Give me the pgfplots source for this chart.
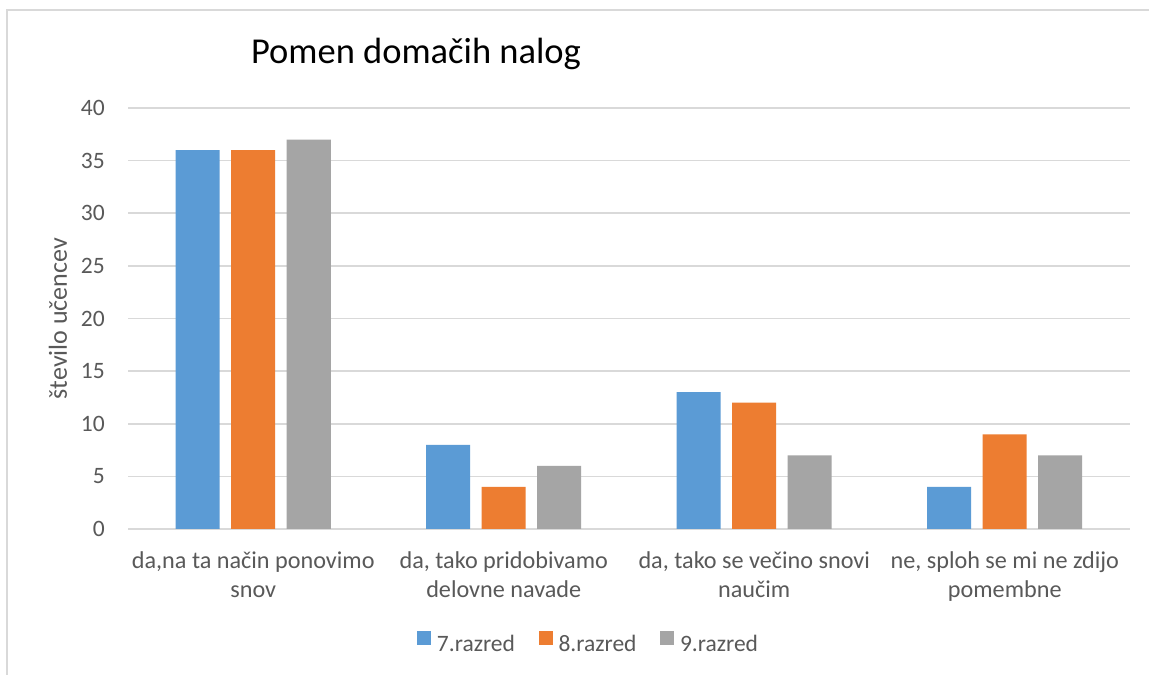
\documentclass[border=0pt]{standalone}
\usepackage{fontspec}
\setmainfont{Carlito}
\usepackage{pgfplots}
\pgfplotsset{compat=1.18}
\definecolor{cblue}{HTML}{5B9BD5}
\definecolor{corange}{HTML}{ED7D31}
\definecolor{cgray}{HTML}{A5A5A5}
\definecolor{ctext}{HTML}{595959}
\definecolor{cgrid}{HTML}{D9D9D9}
\begin{document}
\begin{tikzpicture}
\path[use as bounding box] (0,0) rectangle (1149bp,675bp);
\fill[white] (0,0) rectangle (1149bp,675bp);
\draw[cgrid, line width=1.5bp] (7bp,-20bp) rectangle (1170bp,665bp);
\node[font=\fontsize{36.5bp}{43bp}\selectfont, anchor=base, text=black, inner sep=0pt] at (416bp,611bp) {Pomen domačih nalog};
\begin{axis}[
  at={(128bp,146bp)}, anchor=south west,
  scale only axis, width=1002bp, height=421bp,
  ybar=11.5bp, bar width=44bp,
  xmin=-0.5, xmax=3.5, ymin=0, ymax=40,
  xtick={0,1,2,3},
  xticklabels={{da,na ta način ponovimo\\snov},{da, tako pridobivamo\\delovne navade},{da, tako se večino snovi\\naučim},{ne, sploh se mi ne zdijo\\pomembne}},
  ytick={0,5,...,40},
  axis line style={draw=none},
  major tick length=0pt,
  ymajorgrids, grid style={cgrid, line width=1.7bp},
  /pgf/number format/assume math mode=true,
  yticklabel style={font=\fontsize{23.5bp}{28bp}\selectfont, text=ctext, inner sep=0pt, anchor=east, xshift=-23bp},
  xticklabel style={align=center, font=\fontsize{24.2bp}{29bp}\selectfont, text=ctext, inner sep=0pt, anchor=north, yshift=-22bp},
  ylabel={število učencev},
  every axis y label/.style={at={(axis description cs:-0.0609,0.5)}, rotate=90, anchor=base, font=\fontsize{26bp}{30bp}\selectfont, text=ctext, inner sep=0pt},
  legend columns=3,
  legend style={at={(axis description cs:0.4586,-0.268)}, anchor=center, draw=none, fill=none,
    font=\fontsize{23.5bp}{28bp}\selectfont, text=ctext,
    nodes={inner sep=0pt},
    /tikz/every odd column/.append style={column sep=6bp},
    /tikz/every even column/.append style={column sep=23.5bp}},
  legend image code/.code={\fill[#1] (0bp,-1.5bp) rectangle (14bp,12.5bp);},
]
\addplot[fill=cblue, draw=none] coordinates {(0,36) (1,8) (2,13) (3,4)};
\addplot[fill=corange, draw=none] coordinates {(0,36) (1,4) (2,12) (3,9)};
\addplot[fill=cgray, draw=none] coordinates {(0,37) (1,6) (2,7) (3,7)};
\legend{7.razred,8.razred,9.razred}
\end{axis}
\end{tikzpicture}
\end{document}
